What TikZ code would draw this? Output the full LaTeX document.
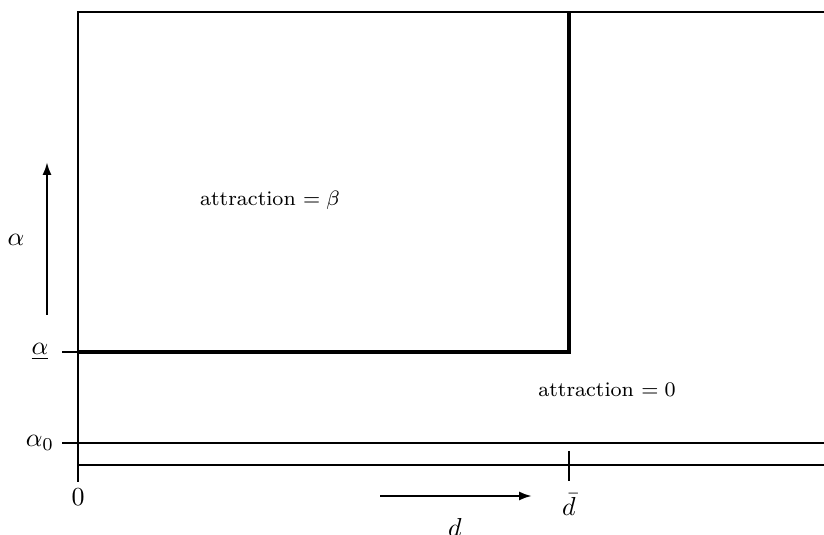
\documentclass[tikz,border=0pt]{standalone}
\usepackage{amsmath, amssymb}
\usetikzlibrary{arrows.meta, positioning}

\begin{document}
\begin{tikzpicture}[x=0.385pt, y=0.385pt,
  thin line/.style={line width=0.4pt},
  bound line/.style={line width=1.3pt},
  dir arrow/.style={-{Latex[length=5pt,width=3.5pt]}, line width=0.9pt},
  region label/.style={font=\footnotesize}]
  \useasboundingbox (0,0) rectangle (824,535);
  % Achsen
  \coordinate (O) at (78,70);
  \coordinate (top) at (78,523);
  \draw[thin line] (78,53) -- (top) -- (824,523);
  \draw[thin line] (O) -- (824,70);
  \draw[thin line] (62,92) -- (824,92);
  \draw[thin line] (62,183) -- (78,183);
  \draw[thin line] (569,84) -- (569,54);
  % Grenze
  \coordinate (abar) at (78,183);
  \coordinate (corner) at (569,183);
  \coordinate (dtop) at (569,523);
  \draw[bound line] (abar) -- (corner) -- (dtop);
  % Beschriftung
  \node (lab0) at (78,38) {$0$};
  \node (labdbar) at (569,30) {$\bar{d}$};
  \node (labd) at (455,8) {$d$};
  \node (labalpha) at (16,295) {$\alpha$};
  \node (lababar) at (40,183) {$\underline{\alpha}$};
  \node (labazero) at (40,92) {$\alpha_0$};
  \node[region label] (regbeta) at (270,335) {attraction $=\beta$};
  \node[region label] (regzero) at (607,145) {attraction $=0$};
  % Pfeile
  \coordinate (aup0) at (47,220);
  \coordinate (aup1) at (47,373);
  \coordinate (dright0) at (380,39);
  \coordinate (dright1) at (532,39);
  \draw[dir arrow] (aup0) -- (aup1);
  \draw[dir arrow] (dright0) -- (dright1);
\end{tikzpicture}
\end{document}
